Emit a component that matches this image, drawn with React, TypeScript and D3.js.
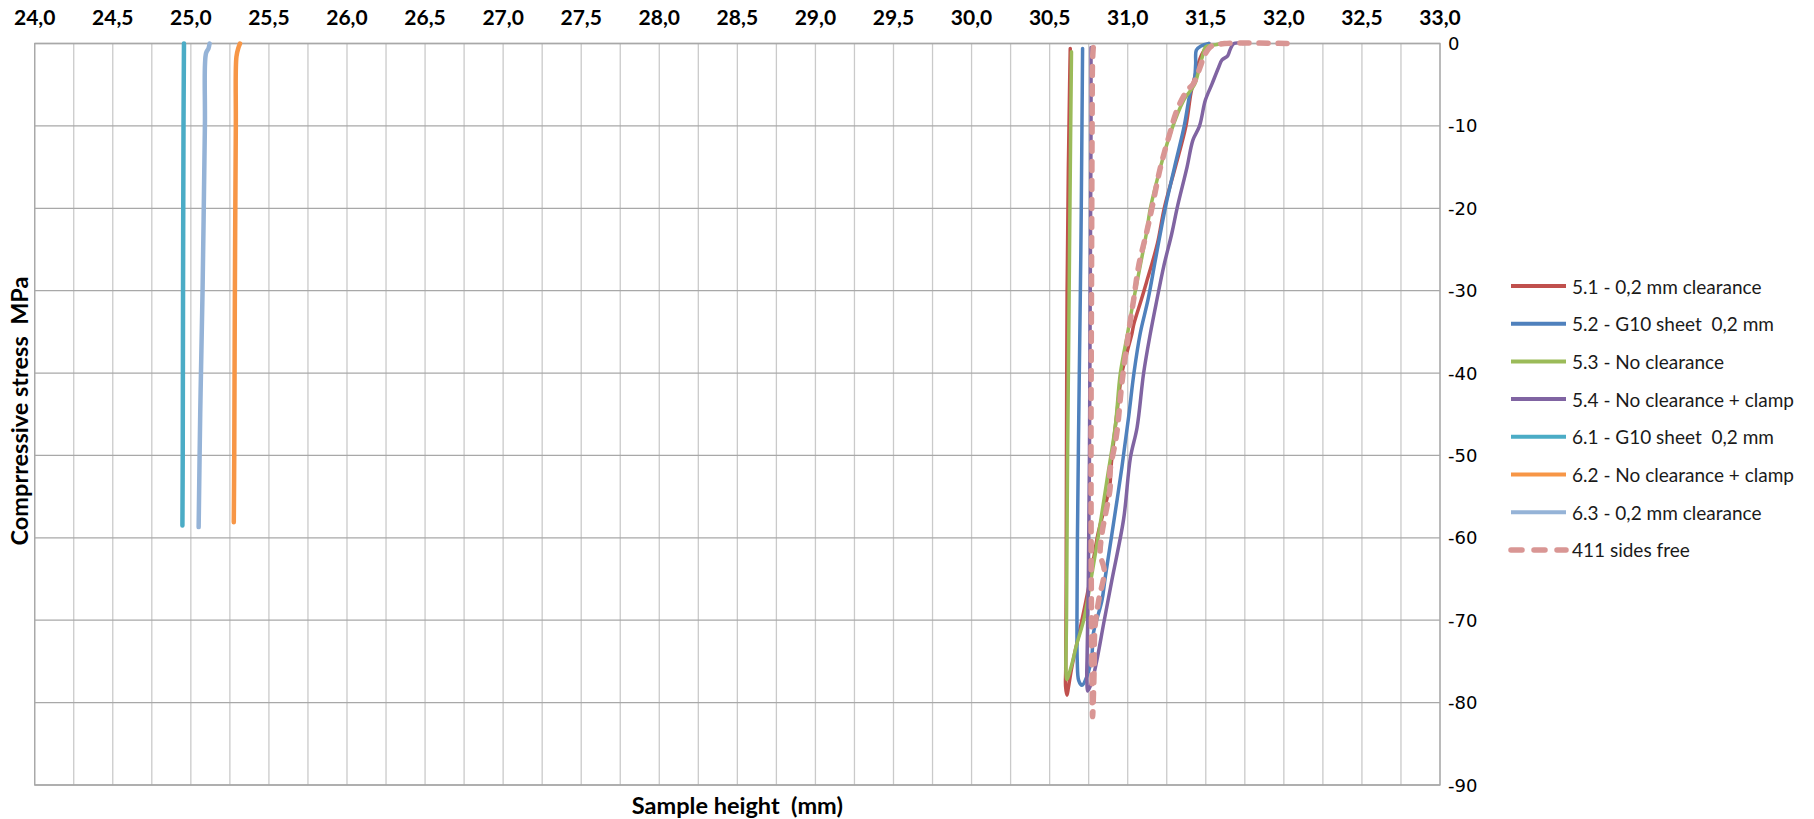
import React from 'react';
import * as d3 from 'd3';

// tick values
const xTicks = [24.0, 24.5, 25.0, 25.5, 26.0, 26.5, 27.0, 27.5, 28.0, 28.5, 29.0, 29.5, 30.0, 30.5, 31.0, 31.5, 32.0, 32.5, 33.0];
const yTicks = [0, -10, -20, -30, -40, -50, -60, -70, -80, -90];

// series: [sample height mm, stress MPa]
const s51 = [
  [31.52, 0], [31.47, -1.5], [31.43, -4], [31.405, -6], [31.373, -10], [31.305, -15], [31.234, -20],
  [31.19, -24.3], [31.12, -29], [31.087, -31.1], [31.04, -34], [31.027, -35.2], [30.963, -40], [30.93, -45],
  [30.895, -51], [30.884, -53.8], [30.81, -59.5], [30.76, -65], [30.707, -70], [30.643, -75.6], [30.62, -78.2],
  [30.611, -79.1], [30.602, -78], [30.603, -76], [30.606, -65], [30.608, -50], [30.612, -30], [30.62, -15],
  [30.628, -5], [30.632, -0.6],
];
const s52 = [
  [31.52, 0], [31.47, -0.3], [31.44, -0.8], [31.435, -2.5], [31.427, -4.4], [31.4, -6], [31.362, -10],
  [31.3, -15], [31.24, -20], [31.177, -26.3], [31.13, -31.1], [31.08, -35.2], [31.04, -40], [31.006, -45.3],
  [30.963, -51.4], [30.899, -59.5], [30.856, -64.8], [30.835, -67.6], [30.78, -71.6], [30.77, -74.4],
  [30.739, -76.8], [30.707, -77.9], [30.686, -77.3], [30.677, -75], [30.675, -70], [30.678, -60], [30.69, -40],
  [30.7, -25], [30.707, -10], [30.711, -0.6],
];
const s53 = [
  [31.6, 0], [31.55, -0.2], [31.5, -0.4], [31.478, -1.6], [31.46, -2.8], [31.43, -4.9], [31.358, -6.9],
  [31.273, -10.9], [31.21, -15], [31.145, -20], [31.12, -23], [31.08, -27], [31.038, -31.1], [30.999, -35.2],
  [30.953, -40], [30.92, -46.5], [30.867, -53], [30.814, -59.5], [30.76, -65.6], [30.718, -70], [30.675, -72.8],
  [30.64, -75.5], [30.61, -77.2], [30.605, -76.5], [30.608, -70], [30.615, -50], [30.625, -30], [30.635, -10],
  [30.64, -1.0],
];
const s54 = [
  [31.74, 0], [31.68, 0], [31.657, -0.7], [31.64, -1.5], [31.604, -2], [31.58, -3], [31.54, -4.9],
  [31.497, -6.9], [31.46, -10], [31.418, -11.7], [31.38, -15], [31.316, -20], [31.283, -23], [31.23, -27.1],
  [31.187, -31.1], [31.145, -35.2], [31.102, -40], [31.06, -46.6], [31.017, -50.3], [30.974, -57.7],
  [30.899, -65.1], [30.846, -70.4], [30.803, -74.8], [30.77, -77.5], [30.745, -78.6], [30.738, -77],
  [30.74, -74.3], [30.748, -65], [30.755, -50], [30.76, -30], [30.765, -10], [30.765, -0.5],
];
const s61 = [[24.956, 0], [24.953, -10], [24.95, -30], [24.948, -50], [24.946, -58.5]];
const s62 = [[25.315, 0], [25.305, -0.5], [25.292, -1.6], [25.288, -10], [25.282, -30], [25.278, -50], [25.275, -58.1]];
const s63 = [[25.12, 0], [25.113, -0.6], [25.097, -1.2], [25.09, -10], [25.075, -30], [25.06, -45], [25.05, -58.7]];
const s411 = [
  [32.02, 0], [31.62, 0], [31.56, -0.2], [31.53, -0.4], [31.49, -1.5], [31.465, -2.8], [31.42, -4.9],
  [31.38, -5.7], [31.315, -8.1], [31.27, -10.9], [31.21, -15], [31.155, -20], [31.12, -23], [31.07, -27],
  [31.038, -31.1], [31.017, -33.6], [30.963, -41.2], [30.93, -47.3], [30.885, -52.2], [30.888, -53.8],
  [30.835, -59.5], [30.824, -62], [30.85, -64], [30.814, -67.6], [30.79, -71], [30.785, -76], [30.775, -81.7],
  [30.772, -78], [30.768, -70], [30.765, -50], [30.768, -30], [30.772, -10], [30.775, -2], [30.78, -0.3],
];

const seriesNames = [
  '5.1 - 0,2 mm clearance',
  '5.2 - G10 sheet  0,2 mm',
  '5.3 - No clearance',
  '5.4 - No clearance + clamp',
  '6.1 - G10 sheet  0,2 mm',
  '6.2 - No clearance + clamp',
  '6.3 - 0,2 mm clearance',
  '411 sides free',
];
const seriesData = [s51, s52, s53, s54, s61, s62, s63, s411];

const colors = ['#C0504D', '#4F81BD', '#9BBB59', '#8064A2', '#4BACC6', '#F79646', '#95B3D7', '#D99694'];
const widths = [3.5, 3.5, 3.5, 3.5, 4.5, 4.5, 4.5, 5.5];

const W = 1814;
const H = 819;
const plot = { left: 34.7, right: 1440, top: 43.5, bottom: 785 };

export default function App() {
  const x = d3.scaleLinear().domain([24, 33]).range([plot.left, plot.right]);
  const y = d3.scaleLinear().domain([0, -90]).range([plot.top, plot.bottom]);

  const line = d3.line<number[]>()
    .x(d => x(d[0]))
    .y(d => y(d[1]))
    .curve(d3.curveCatmullRom.alpha(0.5));

  const minorX = d3.range(24, 33.001, 0.25);
  const fmt = (v: number) => d3.format('.1f')(v).replace('.', ',');
  const sans = 'Lato, "Open Sans", sans-serif';

  const legendX = 1511;
  const legendY0 = 286;
  const legendStep = 37.7;

  return (
    <svg width={W} height={H} style={{ position: 'absolute', left: 0, top: 0, background: '#fff' }}>
      {/* vertical grid */}
      {minorX.map((v, i) => (
        <line key={'gx' + i} x1={x(v)} x2={x(v)} y1={plot.top} y2={plot.bottom} stroke="#cacaca" strokeWidth={1.3} />
      ))}
      {/* horizontal grid */}
      {yTicks.map(v => (
        <line key={'gy' + v} x1={plot.left} x2={plot.right} y1={y(v)} y2={y(v)} stroke="#a8a8a8" strokeWidth={1.3} />
      ))}
      <rect x={plot.left} y={plot.top} width={plot.right - plot.left} height={plot.bottom - plot.top}
        fill="none" stroke="#a8a8a8" strokeWidth={1.3} />

      {/* series */}
      {seriesData.map((d, i) => (
        <path key={'s' + i} d={line(d as number[][]) || ''} fill="none" stroke={colors[i]} strokeWidth={widths[i]}
          strokeLinejoin="round" strokeLinecap="round"
          strokeDasharray={i === 7 ? '9 10' : undefined} />
      ))}

      {/* x tick labels (top) */}
      {xTicks.map(v => (
        <text key={'xt' + v} x={x(v)} y={16} textAnchor="middle" dominantBaseline="central"
          fontFamily={sans} fontWeight="bold" fontSize={21} fill="#000">{fmt(v)}</text>
      ))}
      {/* y tick labels (right) */}
      {yTicks.map(v => (
        <text key={'yt' + v} x={1448} y={y(v)} dominantBaseline="central"
          fontFamily="Verdana, 'DejaVu Sans', sans-serif" fontSize={18} fill="#000">{v}</text>
      ))}

      {/* axis titles */}
      <text x={(plot.left + plot.right) / 2} y={805} textAnchor="middle" dominantBaseline="central"
        fontFamily={sans} fontWeight="bold" fontSize={23.5} style={{ whiteSpace: 'pre' }}>Sample height  (mm)</text>
      <text transform={`translate(18.5, 411) rotate(-90)`} textAnchor="middle"
        dominantBaseline="central" fontFamily={sans} fontWeight="bold" fontSize={23.5}
        style={{ whiteSpace: 'pre' }}>Comprressive stress  MPa</text>

      {/* legend */}
      {seriesNames.map((name, i) => {
        const ly = legendY0 + i * legendStep;
        return (
          <g key={'lg' + i}>
            <line x1={legendX} x2={legendX + 55} y1={ly} y2={ly} stroke={colors[i]}
              strokeWidth={i === 7 ? 5.5 : 4} strokeLinecap={i === 7 ? 'round' : 'butt'}
              strokeDasharray={i === 7 ? '11 12' : undefined} />
            <text x={legendX + 61} y={ly} dominantBaseline="central" fontFamily={sans} fontSize={19}
              fill="#1a1a1a" style={{ whiteSpace: 'pre' }}>{name}</text>
          </g>
        );
      })}
    </svg>
  );
}
